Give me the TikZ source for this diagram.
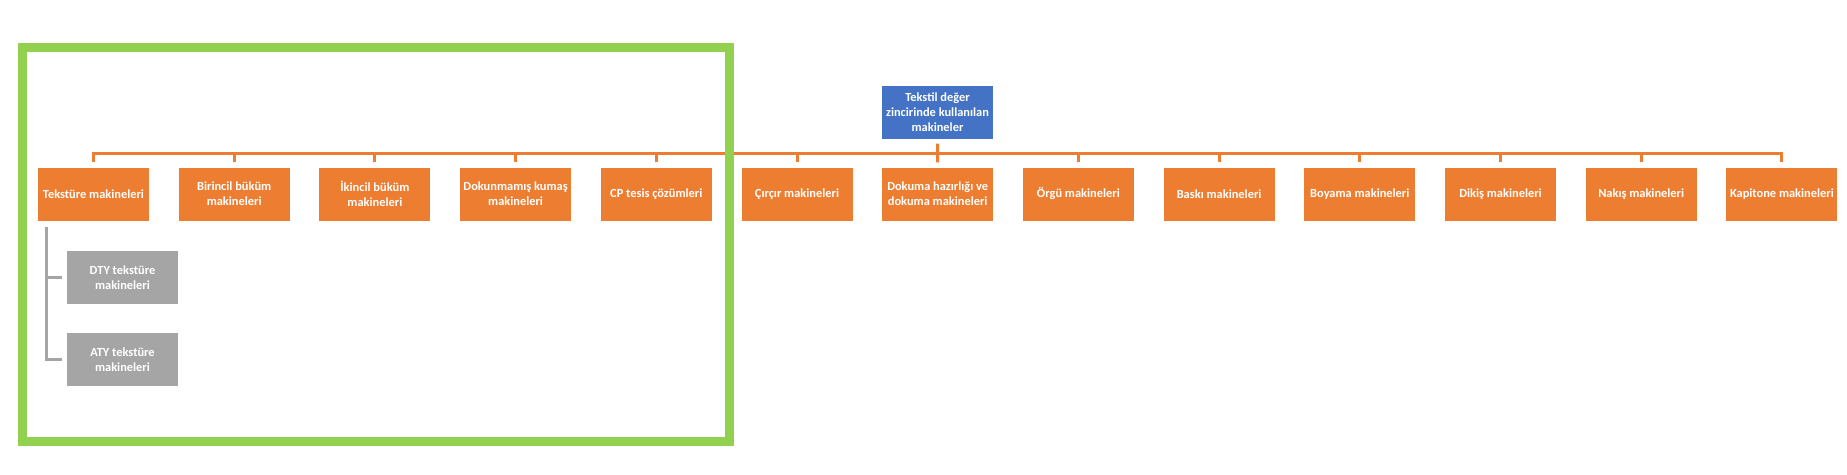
\documentclass[tikz,border=0pt]{standalone}
\usepackage{fontspec}
\setmainfont{Carlito}
\definecolor{orangekasten}{HTML}{ED7D31}
\definecolor{blaukasten}{HTML}{4472C4}
\definecolor{graukasten}{HTML}{A5A5A5}
\definecolor{gruenrahmen}{HTML}{92D050}

\begin{document}
\begin{tikzpicture}[x=1pt,y=-1pt,
    kasten/.style={fill=orangekasten, text=white, inner sep=0pt,
        minimum width=111pt, minimum height=53pt, align=center,
        font=\bfseries\fontsize{12.4}{15}\selectfont},
    wurzelkasten/.style={kasten, fill=blaukasten},
    unterkasten/.style={kasten, fill=graukasten},
    ast/.style={draw=orangekasten, line width=3pt},
    grauast/.style={draw=graukasten, line width=3pt}]
    \useasboundingbox (0,0) rectangle (1847,474);

    % -- Wurzel (blauer Kasten) --
    \node[wurzelkasten] (wurzel) at (937.5,112) {Tekstil değer\\zincirinde kullanılan\\makineler};

    % -- Maschinengruppen (orange Kästen) --
    \node[kasten] (k1)  at (93.5,194)   {Tekstüre makineleri};
    \node[kasten] (k2)  at (234.2,194)  {Birincil büküm\\makineleri};
    \node[kasten] (k3)  at (374.9,194)  {İkincil büküm\\makineleri};
    \node[kasten] (k4)  at (515.6,194)  {Dokunmamış kumaş\\makineleri};
    \node[kasten] (k5)  at (656.3,194)  {CP tesis çözümleri};
    \node[kasten] (k6)  at (797,194)    {Çırçır makineleri};
    \node[kasten] (k7)  at (937.7,194)  {Dokuma hazırlığı ve\\dokuma makineleri};
    \node[kasten] (k8)  at (1078.4,194) {Örgü makineleri};
    \node[kasten] (k9)  at (1219.1,194) {Baskı makineleri};
    \node[kasten] (k10) at (1359.8,194) {Boyama makineleri};
    \node[kasten] (k11) at (1500.5,194) {Dikiş makineleri};
    \node[kasten] (k12) at (1641.2,194) {Nakış makineleri};
    \node[kasten] (k13) at (1781.9,194) {Kapitone makineleri};

    % -- Untergruppen (graue Kästen) --
    \node[unterkasten] (g1) at (122.5,277.5) {DTY tekstüre\\makineleri};
    \node[unterkasten] (g2) at (122.5,359.5) {ATY tekstüre\\makineleri};

    % -- Sammelschiene --
    \coordinate (schiene) at (0,153);
    \draw[ast, shorten <=5pt, shorten >=5pt] (k1.north) |- (schiene -| k13.north) -- (k13.north);
    \draw[ast, shorten <=5pt] (k2.north)  -- (schiene -| k2.north);
    \draw[ast, shorten <=5pt] (k3.north)  -- (schiene -| k3.north);
    \draw[ast, shorten <=5pt] (k4.north)  -- (schiene -| k4.north);
    \draw[ast, shorten <=5pt] (k5.north)  -- (schiene -| k5.north);
    \draw[ast, shorten <=5pt] (k6.north)  -- (schiene -| k6.north);
    \draw[ast, shorten <=5pt] (k8.north)  -- (schiene -| k8.north);
    \draw[ast, shorten <=5pt] (k9.north)  -- (schiene -| k9.north);
    \draw[ast, shorten <=5pt] (k10.north) -- (schiene -| k10.north);
    \draw[ast, shorten <=5pt] (k11.north) -- (schiene -| k11.north);
    \draw[ast, shorten <=5pt] (k12.north) -- (schiene -| k12.north);

    % -- Wurzel zur Schiene --
    \draw[ast, shorten <=5pt, shorten >=5pt] (wurzel.south) -- (k7.north);

    % -- Klammer (grau) --
    \coordinate (klammer) at (46,0);
    \draw[grauast, shorten <=6pt, shorten >=5pt] (k1.south -| klammer) |- (g2.west);
    \draw[grauast, shorten >=5pt] (g1.west -| klammer) -- (g1.west);

    % -- Rahmen (grün) --
    \draw[gruenrahmen, line width=9pt] (22.5,47.5) rectangle (729.5,441.5);
\end{tikzpicture}
\end{document}
